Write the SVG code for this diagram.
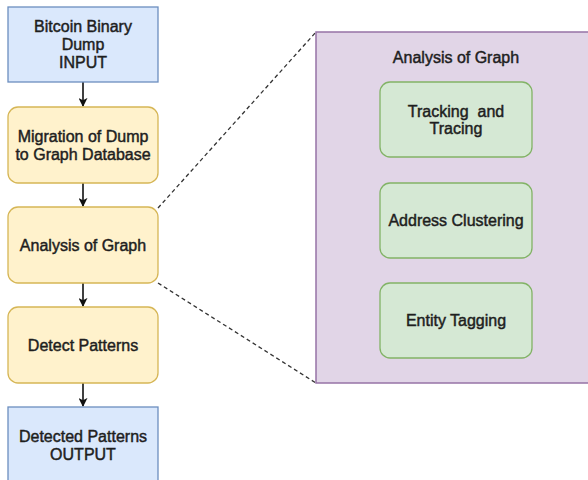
<svg xmlns="http://www.w3.org/2000/svg" width="588" height="480" viewBox="0 0 588 480">
<style>
text{font-family:"Liberation Sans",Arial,sans-serif;font-size:16px;fill:#1e1e1e;stroke:#1e1e1e;stroke-width:0.45;text-anchor:middle}
.blue{fill:#dae8fc;stroke:#6c8ebf;stroke-width:1.3}
.yellow{fill:#fff2cc;stroke:#d6b656;stroke-width:1.3}
.green{fill:#d5e8d4;stroke:#82b366;stroke-width:1.3}
.purple{fill:#e1d5e7;stroke:#9673a6;stroke-width:1.5}
.arrow{stroke:#111;stroke-width:1.6;fill:none;marker-end:url(#ah)}
.dash{stroke:#333;stroke-width:1.3;fill:none;stroke-dasharray:4 3}
</style>
<defs>
<marker id="ah" viewBox="0 0 10 10" refX="9" refY="5" markerWidth="9" markerHeight="9" markerUnits="userSpaceOnUse" orient="auto">
<path d="M0,0 L10,5 L0,10 L2.5,5 Z" fill="#111"/>
</marker>
</defs>
<rect width="588" height="480" fill="#ffffff"/>
<g id="connectors">
<path class="arrow" d="M83,82 V106"/>
<path class="arrow" d="M83,183 V206"/>
<path class="arrow" d="M83,283 V306"/>
<path class="arrow" d="M83,383 V406"/>
<path class="dash" d="M158,208 L316,32"/>
<path class="dash" d="M158,283 L316,383"/>
</g>
<g id="input">
<rect class="blue" x="8" y="7" width="150" height="75"/>
<text x="83" y="32">Bitcoin Binary</text>
<text x="83" y="50">Dump</text>
<text x="83" y="68">INPUT</text>
</g>
<g id="migration">
<rect class="yellow" x="8" y="107" width="150" height="76" rx="10"/>
<text x="83" y="142">Migration of Dump</text>
<text x="83" y="160">to Graph Database</text>
</g>
<g id="analysis">
<rect class="yellow" x="8" y="207" width="150" height="76" rx="10"/>
<text x="83" y="251">Analysis of Graph</text>
</g>
<g id="detect">
<rect class="yellow" x="8" y="307" width="150" height="76" rx="10"/>
<text x="83" y="351">Detect Patterns</text>
</g>
<g id="output">
<rect class="blue" x="8" y="407" width="150" height="76"/>
<text x="83" y="442">Detected Patterns</text>
<text x="83" y="460">OUTPUT</text>
</g>
<g id="analysis-panel">
<rect class="purple" x="316" y="32" width="280" height="351"/>
<text x="456" y="63">Analysis of Graph</text>
</g>
<g id="tracking">
<rect class="green" x="380" y="82" width="152" height="75" rx="10"/>
<text x="456" y="117" xml:space="preserve">Tracking  and</text>
<text x="456" y="134">Tracing</text>
</g>
<g id="clustering">
<rect class="green" x="380" y="183" width="152" height="75" rx="10"/>
<text x="456" y="226">Address Clustering</text>
</g>
<g id="tagging">
<rect class="green" x="380" y="283" width="152" height="75" rx="10"/>
<text x="456" y="326">Entity Tagging</text>
</g>
</svg>
